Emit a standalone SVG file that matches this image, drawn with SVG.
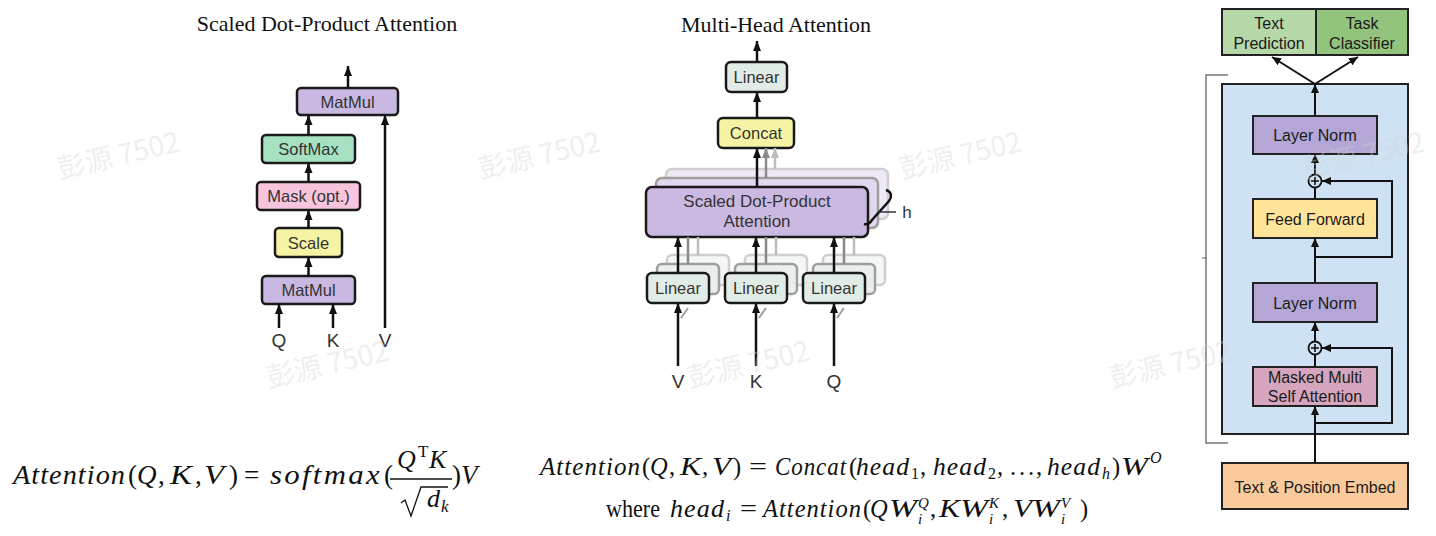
<svg xmlns="http://www.w3.org/2000/svg" width="1436" height="536" viewBox="0 0 1436 536">
<defs>
<style>
.title{font-family:"Liberation Serif","Times New Roman",serif;font-size:22px;fill:#111;text-anchor:middle}
.lb{font-family:"Liberation Sans",Arial,sans-serif;font-size:16.5px;fill:#333;text-anchor:middle}
.io{font-family:"Liberation Sans",Arial,sans-serif;font-size:19px;fill:#333;text-anchor:middle}
.rb{font-family:"Liberation Sans",Arial,sans-serif;font-size:16px;fill:#1a1a1a;text-anchor:middle}
.box{stroke:#1a1a1a;stroke-width:2.5}
.rbox{stroke:#222;stroke-width:2}
.ln{stroke:#111;stroke-width:2.5;fill:none}
.lng{stroke:#8a8a8a;stroke-width:2.5;fill:none}
.lnl{stroke:#bdbdbd;stroke-width:2.5;fill:none}
.rln{stroke:#111;stroke-width:2;fill:none}
.mi{font-family:"Liberation Serif","Times New Roman",serif;font-style:italic;fill:#111}
.mr{font-family:"Liberation Serif","Times New Roman",serif;fill:#111}
.w1{letter-spacing:1px}
.w2{letter-spacing:2px}
.wm{font-family:"Noto Sans CJK SC","Noto Sans",sans-serif;font-size:28px;fill:#d4d4d4;fill-opacity:0.38}
</style>
<marker id="a" viewBox="0 0 10 10" refX="10" refY="5" markerWidth="10" markerHeight="10" markerUnits="userSpaceOnUse" orient="auto"><path d="M0,1 L10,5 L0,9 z" fill="#111"/></marker>
<marker id="ag" viewBox="0 0 10 10" refX="10" refY="5" markerWidth="10" markerHeight="10" markerUnits="userSpaceOnUse" orient="auto"><path d="M0,1 L10,5 L0,9 z" fill="#8a8a8a"/></marker>
<marker id="al" viewBox="0 0 10 10" refX="10" refY="5" markerWidth="10" markerHeight="10" markerUnits="userSpaceOnUse" orient="auto"><path d="M0,1 L10,5 L0,9 z" fill="#bdbdbd"/></marker>
<marker id="ar" viewBox="0 0 10 10" refX="10" refY="5" markerWidth="9" markerHeight="9" markerUnits="userSpaceOnUse" orient="auto"><path d="M0,0.5 L10,5 L0,9.5 z" fill="#111"/></marker>
</defs>
<rect width="1436" height="536" fill="#ffffff"/>

<!-- ===== Scaled Dot-Product Attention ===== -->
<text class="title" x="327" y="31">Scaled Dot-Product Attention</text>
<g id="sdpa-matmul-top"><rect class="box" x="297" y="88" width="101" height="27" rx="4" fill="#c9b9e2"/><text class="lb" x="347.5" y="107.5">MatMul</text></g>
<g id="sdpa-softmax"><rect class="box" x="262" y="135" width="93" height="28" rx="4" fill="#a6e2c2"/><text class="lb" x="308.5" y="155">SoftMax</text></g>
<g id="sdpa-mask"><rect class="box" x="257" y="182" width="103" height="28" rx="4" fill="#f8c5dc"/><text class="lb" x="308.5" y="202">Mask (opt.)</text></g>
<g id="sdpa-scale"><rect class="box" x="275" y="228" width="67" height="29" rx="4" fill="#f6f3a4"/><text class="lb" x="308.5" y="248.5">Scale</text></g>
<g id="sdpa-matmul-bottom"><rect class="box" x="262" y="276" width="93" height="28" rx="4" fill="#c9b9e2"/><text class="lb" x="308.5" y="296">MatMul</text></g>
<g id="sdpa-inputs"><text class="io" x="279" y="347">Q</text><text class="io" x="333" y="347">K</text><text class="io" x="385" y="347">V</text></g>
<g id="sdpa-connectors">
<line class="ln" x1="348" y1="88" x2="348" y2="66" marker-end="url(#a)"/>
<line class="ln" x1="308.5" y1="135" x2="308.5" y2="115" marker-end="url(#a)"/>
<line class="ln" x1="308.5" y1="182" x2="308.5" y2="163" marker-end="url(#a)"/>
<line class="ln" x1="308.5" y1="228" x2="308.5" y2="210" marker-end="url(#a)"/>
<line class="ln" x1="308.5" y1="276" x2="308.5" y2="257" marker-end="url(#a)"/>
<line class="ln" x1="279" y1="328" x2="279" y2="304" marker-end="url(#a)"/>
<line class="ln" x1="333" y1="328" x2="333" y2="304" marker-end="url(#a)"/>
<line class="ln" x1="385" y1="328" x2="385" y2="115" marker-end="url(#a)"/>
</g>

<!-- ===== Multi-Head Attention ===== -->
<text class="title" x="776" y="32">Multi-Head Attention</text>
<g id="mha-linear-out"><rect class="box" x="726" y="62" width="61" height="30" rx="5" fill="#e2ece7"/><text class="lb" x="756.5" y="83">Linear</text></g>
<g id="mha-concat"><rect class="box" x="718" y="118" width="76" height="30" rx="5" fill="#f7f3a4"/><text class="lb" x="756" y="139">Concat</text></g>
<g id="mha-sdpa">
<rect x="666" y="169" width="222" height="50" rx="6" fill="#efe9f6" stroke="#cfcfcf" stroke-width="2.5"/>
<rect x="656" y="178" width="222" height="50" rx="6" fill="#e1d7ee" stroke="#9e9e9e" stroke-width="2.5"/>
<rect class="box" x="646" y="187" width="222" height="50" rx="6" fill="#cbb9e2"/>
<text class="lb" x="757" y="207" style="font-size:17px">Scaled Dot-Product</text>
<text class="lb" x="757" y="227" style="font-size:17px">Attention</text>
<path d="M886 190 C892 192 892 197 889 201 L872 220 C870 223 867 225 864 224" fill="none" stroke="#111" stroke-width="2.5"/>
<line x1="878" y1="212" x2="896" y2="212" stroke="#333" stroke-width="1.5"/>
<text class="lb" x="907" y="218" style="font-size:17px">h</text>
</g>
<g id="mha-linear-v">
<rect x="667" y="255" width="62" height="30" rx="5" fill="#f3f7f5" stroke="#cfcfcf" stroke-width="2.5"/>
<rect x="657" y="264" width="62" height="30" rx="5" fill="#e9f0ec" stroke="#9e9e9e" stroke-width="2.5"/>
<rect class="box" x="647" y="273" width="62" height="30" rx="5" fill="#e2ece7"/><text class="lb" x="678" y="294">Linear</text></g>
<g id="mha-linear-k">
<rect x="745" y="255" width="62" height="30" rx="5" fill="#f3f7f5" stroke="#cfcfcf" stroke-width="2.5"/>
<rect x="735" y="264" width="62" height="30" rx="5" fill="#e9f0ec" stroke="#9e9e9e" stroke-width="2.5"/>
<rect class="box" x="725" y="273" width="62" height="30" rx="5" fill="#e2ece7"/><text class="lb" x="756" y="294">Linear</text></g>
<g id="mha-linear-q">
<rect x="823" y="255" width="62" height="30" rx="5" fill="#f3f7f5" stroke="#cfcfcf" stroke-width="2.5"/>
<rect x="813" y="264" width="62" height="30" rx="5" fill="#e9f0ec" stroke="#9e9e9e" stroke-width="2.5"/>
<rect class="box" x="803" y="273" width="62" height="30" rx="5" fill="#e2ece7"/><text class="lb" x="834" y="294">Linear</text></g>
<g id="mha-inputs"><text class="io" x="678" y="388">V</text><text class="io" x="756" y="388">K</text><text class="io" x="834" y="388">Q</text></g>
<g id="mha-connectors">
<line class="ln" x1="757" y1="62" x2="757" y2="41" marker-end="url(#a)"/>
<line class="ln" x1="757" y1="118" x2="757" y2="92" marker-end="url(#a)"/>
<line class="lnl" x1="775" y1="169" x2="775" y2="148" marker-end="url(#al)"/>
<line class="lng" x1="766" y1="178" x2="766" y2="148" marker-end="url(#ag)"/>
<line class="ln" x1="757" y1="187" x2="757" y2="148" marker-end="url(#a)"/>
<line class="lnl" x1="698" y1="255" x2="698" y2="237"/>
<line class="lng" x1="688" y1="264" x2="688" y2="237"/>
<line class="ln" x1="678" y1="273" x2="678" y2="237" marker-end="url(#a)"/>
<line class="lnl" x1="776" y1="255" x2="776" y2="237"/>
<line class="lng" x1="766" y1="264" x2="766" y2="237"/>
<line class="ln" x1="756" y1="273" x2="756" y2="237" marker-end="url(#a)"/>
<line class="lnl" x1="854" y1="255" x2="854" y2="237"/>
<line class="lng" x1="844" y1="264" x2="844" y2="237"/>
<line class="ln" x1="834" y1="273" x2="834" y2="237" marker-end="url(#a)"/>
<line x1="681" y1="318" x2="688" y2="308" stroke="#9e9e9e" stroke-width="2"/>
<line x1="759" y1="318" x2="766" y2="308" stroke="#9e9e9e" stroke-width="2"/>
<line x1="837" y1="318" x2="844" y2="308" stroke="#9e9e9e" stroke-width="2"/>
<line class="ln" x1="678" y1="366" x2="678" y2="303" marker-end="url(#a)"/>
<line class="ln" x1="756" y1="366" x2="756" y2="303" marker-end="url(#a)"/>
<line class="ln" x1="834" y1="366" x2="834" y2="303" marker-end="url(#a)"/>
</g>

<!-- ===== Right: GPT block ===== -->
<g id="gpt-bracket"><path d="M1228 75 H1206 V443 H1228" fill="none" stroke="#777" stroke-width="1.5"/><line x1="1202" y1="258" x2="1207" y2="258" stroke="#777" stroke-width="1.2"/></g>
<g id="gpt-block"><rect class="rbox" x="1222" y="84" width="186" height="350" fill="#cfe2f3"/></g>
<g id="gpt-text-prediction"><rect class="rbox" x="1222" y="9" width="94" height="46" fill="#b6d7a8"/><text class="rb" x="1269" y="29">Text</text><text class="rb" x="1269" y="49">Prediction</text></g>
<g id="gpt-task-classifier"><rect class="rbox" x="1316" y="9" width="92" height="46" fill="#93c47d"/><text class="rb" x="1362" y="29">Task</text><text class="rb" x="1362" y="49">Classifier</text></g>
<g id="gpt-layernorm-1"><rect class="rbox" x="1253" y="116" width="124" height="38" fill="#b4a7d6"/><text class="rb" x="1315" y="141">Layer Norm</text></g>
<g id="gpt-add-1"><circle cx="1315" cy="181" r="6.5" fill="none" stroke="#111" stroke-width="1.8"/><path d="M1311 181 H1319 M1315 177 V185" stroke="#111" stroke-width="1.6"/></g>
<g id="gpt-feedforward"><rect class="rbox" x="1253" y="199" width="124" height="39" fill="#ffe599"/><text class="rb" x="1315" y="224.5">Feed Forward</text></g>
<g id="gpt-layernorm-2"><rect class="rbox" x="1253" y="283" width="124" height="39" fill="#b4a7d6"/><text class="rb" x="1315" y="308.5">Layer Norm</text></g>
<g id="gpt-add-2"><circle cx="1315" cy="348" r="6.5" fill="none" stroke="#111" stroke-width="1.8"/><path d="M1311 348 H1319 M1315 344 V352" stroke="#111" stroke-width="1.6"/></g>
<g id="gpt-masked-attention"><rect class="rbox" x="1253" y="367" width="124" height="39" fill="#d5a6bd"/><text class="rb" x="1315" y="383">Masked Multi</text><text class="rb" x="1315" y="402">Self Attention</text></g>
<g id="gpt-embed"><rect class="rbox" x="1222" y="463" width="186" height="46" fill="#f9cb9c"/><text class="rb" x="1315" y="493">Text &amp; Position Embed</text></g>
<g id="gpt-connectors">
<line class="rln" x1="1315" y1="116" x2="1315" y2="84" marker-end="url(#ar)"/>
<line class="rln" x1="1315" y1="84" x2="1272" y2="57" marker-end="url(#ar)"/>
<line class="rln" x1="1315" y1="84" x2="1358" y2="57" marker-end="url(#ar)"/>
<line class="rln" x1="1315" y1="174.5" x2="1315" y2="154" marker-end="url(#ar)"/>
<line class="rln" x1="1315" y1="199" x2="1315" y2="187.5"/>
<polyline class="rln" points="1315,257 1392,257 1392,181 1322,181" marker-end="url(#ar)"/>
<line class="rln" x1="1315" y1="283" x2="1315" y2="238" marker-end="url(#ar)"/>
<line class="rln" x1="1315" y1="341.5" x2="1315" y2="322" marker-end="url(#ar)"/>
<line class="rln" x1="1315" y1="367" x2="1315" y2="354.5"/>
<polyline class="rln" points="1315,423 1392,423 1392,348 1322,348" marker-end="url(#ar)"/>
<line class="rln" x1="1315" y1="463" x2="1315" y2="406" marker-end="url(#ar)"/>
</g>

<!-- ===== Formula: scaled dot-product ===== -->
<g id="formula-sdpa" font-size="27">
<text class="mi w1" x="13" y="484" textLength="113" lengthAdjust="spacingAndGlyphs">Attention</text>
<text class="mr" x="128" y="484">(</text>
<text class="mi" x="137" y="484">Q</text>
<text class="mr" x="158" y="484">,</text>
<text class="mi" x="170" y="484" textLength="22" lengthAdjust="spacingAndGlyphs">K</text>
<text class="mr" x="195" y="484">,</text>
<text class="mi" x="204" y="484" textLength="20" lengthAdjust="spacingAndGlyphs">V</text>
<text class="mr" x="229" y="484">)</text>
<text class="mr" x="244" y="484">=</text>
<text class="mi w2" x="270" y="484" textLength="112" lengthAdjust="spacingAndGlyphs">softmax</text>
<text class="mr" x="384" y="484">(</text>
<text class="mi" x="397" y="468" font-size="26">Q</text>
<text class="mr" x="418" y="457" font-size="17">T</text>
<text class="mi" x="429" y="468" font-size="26">K</text>
<line x1="390" y1="479" x2="452" y2="479" stroke="#111" stroke-width="1.3"/>
<path d="M401 503 L405 500 L411 516 L421 487 L448 487" fill="none" stroke="#111" stroke-width="1.3"/>
<text class="mi" x="427" y="507" font-size="26">d</text>
<text class="mi" x="441" y="512" font-size="17">k</text>
<text class="mr" x="452" y="484">)</text>
<text class="mi" x="461" y="484">V</text>
</g>

<!-- ===== Formula: multi-head ===== -->
<g id="formula-mha" font-size="24.5">
<text class="mi w1" x="540" y="475" textLength="101" lengthAdjust="spacingAndGlyphs">Attention</text>
<text class="mr" x="642" y="475">(</text>
<text class="mi" x="650" y="475">Q</text>
<text class="mr" x="669" y="475">,</text>
<text class="mi" x="680" y="475" textLength="21" lengthAdjust="spacingAndGlyphs">K</text>
<text class="mr" x="702" y="475">,</text>
<text class="mi" x="712" y="475" textLength="19" lengthAdjust="spacingAndGlyphs">V</text>
<text class="mr" x="733" y="475">)</text>
<text class="mr" x="749" y="475" textLength="18" lengthAdjust="spacingAndGlyphs">=</text>
<text class="mi w1" x="775" y="475" textLength="72" lengthAdjust="spacingAndGlyphs">Concat</text>
<text class="mr" x="849" y="475">(</text>
<text class="mi w1" x="856" y="475" textLength="54" lengthAdjust="spacingAndGlyphs">head</text>
<text class="mr" x="911" y="479" font-size="16">1</text>
<text class="mr" x="920" y="475">,</text>
<text class="mi w1" x="933" y="475" textLength="54" lengthAdjust="spacingAndGlyphs">head</text>
<text class="mr" x="988" y="479" font-size="16">2</text>
<text class="mr" x="997" y="475">,</text>
<text class="mr" x="1010" y="475" textLength="24" lengthAdjust="spacing">. . .</text>
<text class="mr" x="1036" y="475">,</text>
<text class="mi w1" x="1047" y="475" textLength="54" lengthAdjust="spacingAndGlyphs">head</text>
<text class="mi" x="1102" y="479" font-size="16">h</text>
<text class="mr" x="1112" y="475">)</text>
<text class="mi" x="1121" y="475" textLength="27" lengthAdjust="spacingAndGlyphs">W</text>
<text class="mi" x="1150" y="463" font-size="16">O</text>
<text class="mr" x="606" y="517" textLength="54" lengthAdjust="spacingAndGlyphs">where</text>
<text class="mi w1" x="670" y="517" textLength="55" lengthAdjust="spacingAndGlyphs">head</text>
<text class="mi" x="726" y="521" font-size="16">i</text>
<text class="mr" x="740" y="517" textLength="17" lengthAdjust="spacingAndGlyphs">=</text>
<text class="mi w1" x="763" y="517" textLength="99" lengthAdjust="spacingAndGlyphs">Attention</text>
<text class="mr" x="863" y="517">(</text>
<text class="mi" x="870" y="517">Q</text>
<text class="mi" x="889" y="517" textLength="28" lengthAdjust="spacingAndGlyphs">W</text>
<text class="mi" x="918" y="508" font-size="15">Q</text>
<text class="mi" x="918" y="524" font-size="15">i</text>
<text class="mr" x="930" y="517">,</text>
<text class="mi" x="939" y="517" textLength="21" lengthAdjust="spacingAndGlyphs">K</text>
<text class="mi" x="960" y="517" textLength="28" lengthAdjust="spacingAndGlyphs">W</text>
<text class="mi" x="989" y="508" font-size="15">K</text>
<text class="mi" x="989" y="524" font-size="15">i</text>
<text class="mr" x="1002" y="517">,</text>
<text class="mi" x="1013" y="517" textLength="19" lengthAdjust="spacingAndGlyphs">V</text>
<text class="mi" x="1032" y="517" textLength="28" lengthAdjust="spacingAndGlyphs">W</text>
<text class="mi" x="1061" y="508" font-size="15">V</text>
<text class="mi" x="1061" y="524" font-size="15">i</text>
<text class="mr" x="1080" y="517">)</text>
</g>

<!-- ===== Watermarks ===== -->
<g id="watermarks">
<text class="wm" transform="translate(60 179) rotate(-13)">彭源 7502</text>
<text class="wm" transform="translate(481 179) rotate(-13)">彭源 7502</text>
<text class="wm" transform="translate(902 179) rotate(-13)">彭源 7502</text>
<text class="wm" transform="translate(1305 179) rotate(-13)">彭源 7502</text>
<text class="wm" transform="translate(269 388) rotate(-13)">彭源 7502</text>
<text class="wm" transform="translate(690 388) rotate(-13)">彭源 7502</text>
<text class="wm" transform="translate(1112 388) rotate(-13)">彭源 7502</text>
</g>
</svg>
